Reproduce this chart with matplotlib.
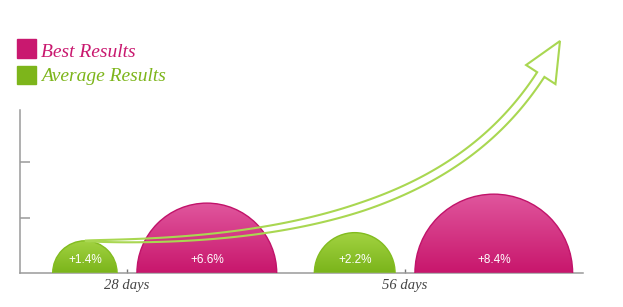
import numpy as np
import matplotlib
matplotlib.use("Agg")
import matplotlib.pyplot as plt
from matplotlib.patches import Wedge, Rectangle, Polygon
from matplotlib.colors import LinearSegmentedColormap

# ---------------- data ----------------
days = [28, 56]
tick_labels = ["28 days", "56 days"]
average = [1.4, 2.2]
best = [6.6, 8.4]
series_names = ["Best Results", "Average Results"]
y_ticks = [5.5, 11.2]

# ---------------- layout / style ----------------
W, H, DPI = 623, 307, 100
PPU = 278 / 28.0                 # pixels per data unit
AX_L, AX_B, AX_W, AX_H = 20, 34, 563, 163   # axes box in pixels
X_LO = 28 - 107 / PPU
R_SCALE = 2.74                   # radius = R_SCALE * sqrt(value)  (area ~ value)
GAP = 1.0

PINK = "#c9186f"
GREEN = "#7db51b"
PINK_TOP, PINK_BOT, PINK_EDGE = "#e0569d", "#c8166c", "#c1136a"
GREEN_TOP, GREEN_BOT, GREEN_EDGE = "#a3d342", "#7ab41a", "#82bc1f"
ARROW = "#a9d751"
AXIS = "#9a9a9a"

fig = plt.figure(figsize=(W / DPI, H / DPI), dpi=DPI)
fig.patch.set_facecolor("white")
ax = fig.add_axes([AX_L / W, AX_B / H, AX_W / W, AX_H / H])
ax.set_facecolor("none")


def half_disc(cx, r, top, bot, edge, label):
    wedge = Wedge((cx, 0), r, 0, 180, facecolor="none", edgecolor=edge,
                  linewidth=1.0, zorder=3)
    ax.add_patch(wedge)
    cmap = LinearSegmentedColormap.from_list("g", [bot, top])
    grad = np.linspace(0, 1, 256).reshape(-1, 1)
    im = ax.imshow(grad, extent=[cx - r, cx + r, 0, r], origin="lower",
                   cmap=cmap, aspect="auto", interpolation="bilinear", zorder=2)
    im.set_clip_path(wedge)
    ax.text(cx, 13 / PPU, label, color="white", ha="center", va="center",
            fontsize=8.5, family="Liberation Sans", zorder=6)


green_r = []
for d, a, b in zip(days, average, best):
    ra = R_SCALE * np.sqrt(a)
    rb = R_SCALE * np.sqrt(b)
    green_r.append(ra)
    half_disc(d - GAP - ra, ra, GREEN_TOP, GREEN_BOT, GREEN_EDGE, f"+{a}%")
    half_disc(d + GAP + rb, rb, PINK_TOP, PINK_BOT, PINK_EDGE, f"+{b}%")

# ---------------- growth arrow (decoration) ----------------
def px2d(px, py):
    return np.array([X_LO + (px - AX_L) / PPU, (H - AX_B - py) / PPU])

P0 = np.array([days[0] - GAP - green_r[0], green_r[0]])
P1 = px2d(380, 245)
P2 = px2d(500, 160)
P3 = px2d(560, 41)
t = np.linspace(0, 1, 600)[:, None]
curve = ((1 - t) ** 3) * P0 + 3 * ((1 - t) ** 2) * t * P1 + 3 * (1 - t) * t ** 2 * P2 + t ** 3 * P3
deriv = 3 * (1 - t) ** 2 * (P1 - P0) + 6 * (1 - t) * t * (P2 - P1) + 3 * t ** 2 * (P3 - P2)
tang = deriv / np.linalg.norm(deriv, axis=1, keepdims=True)
norm = np.column_stack([-tang[:, 1], tang[:, 0]])
seg = np.linalg.norm(np.diff(curve, axis=0), axis=1)
dist_to_tip = np.concatenate([np.cumsum(seg[::-1])[::-1], [0]])
head_len = 39 / PPU
ib = np.argmin(np.abs(dist_to_tip - head_len))
tt = t[:ib + 1, 0]
hw = (4.3 / PPU) * np.sqrt(np.clip(tt / 0.4, 0, 1))
left = curve[:ib + 1] + norm[:ib + 1] * hw[:, None]
right = curve[:ib + 1] - norm[:ib + 1] * hw[:, None]
base = curve[ib]
nb = norm[ib]
head_hw = 17.5 / PPU
poly = np.vstack([left, base + nb * head_hw, P3, base - nb * head_hw, right[::-1]])
ax.add_patch(Polygon(poly, closed=True, fill=False, edgecolor=ARROW,
                     linewidth=1.5, joinstyle="miter", zorder=5, clip_on=False))

# ---------------- axes ----------------
ax.set_xlim(X_LO, X_LO + AX_W / PPU)
ax.set_ylim(0, AX_H / PPU)
for s in ["top", "right"]:
    ax.spines[s].set_visible(False)
for s in ["left", "bottom"]:
    ax.spines[s].set_color(AXIS)
    ax.spines[s].set_linewidth(1.1)
ax.set_xticks(days)
ax.set_xticklabels(tick_labels, fontstyle="italic", family="Liberation Serif",
                   fontsize=10.5, color="#444444")
ax.set_yticks(y_ticks)
ax.set_yticklabels([])
ax.tick_params(axis="x", direction="in", length=3, width=1, color="#777777", pad=4)
ax.tick_params(axis="y", direction="in", length=7.2, width=1.1, color=AXIS)

# ---------------- legend ----------------
fig.patches.append(Rectangle((17 / W, 1 - 58 / H), 19 / W, 19 / H,
                             transform=fig.transFigure, color=PINK))
fig.patches.append(Rectangle((17 / W, 1 - 84 / H), 19 / W, 18 / H,
                             transform=fig.transFigure, color=GREEN))
fig.text(41 / W, 1 - 57 / H, series_names[0], color=PINK, fontstyle="italic",
         family="Liberation Serif", fontsize=14, va="baseline")
fig.text(41 / W, 1 - 81 / H, series_names[1], color=GREEN, fontstyle="italic",
         family="Liberation Serif", fontsize=14, va="baseline")

fig.savefig("out.png", dpi=DPI, facecolor="white")
